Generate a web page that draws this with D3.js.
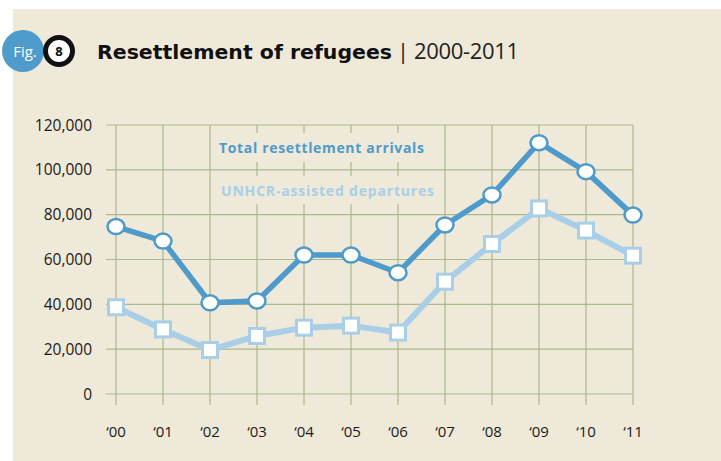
<!DOCTYPE html>
<html><head><meta charset="utf-8">
<script src="https://cdn.jsdelivr.net/npm/d3@7"></script>
<style>html,body{margin:0;padding:0;background:#fff;}svg{display:block;}</style>
</head><body>
<svg id="c" width="721" height="461"></svg>
<script>
const years = ["‘00","‘01","‘02","‘03","‘04","‘05","‘06","‘07","‘08","‘09","‘10","‘11"];
const totalArrivals = [74700, 68200, 40700, 41500, 62000, 62000, 54100, 75400, 88800, 112100, 99200, 79800];
const unhcrDepartures = [38700, 28800, 19600, 25900, 29600, 30500, 27400, 50100, 66900, 82800, 72900, 61700];
const yTicks = [0, 20000, 40000, 60000, 80000, 100000, 120000];
const seriesNames = ["Total resettlement arrivals", "UNHCR-assisted departures"];

const svg = d3.select("#c");
const bg = "#efe9d9", grid = "#a9b98a", dark = "#4e9acb", light = "#a8cfe7";
const font = "'Open Sans', 'Noto Sans', sans-serif";

svg.append("rect").attr("x",13).attr("y",9).attr("width",708).attr("height",452).attr("fill",bg);

const x = d3.scalePoint().domain(years).range([116, 633]);
const y = d3.scaleLinear().domain([0,120000]).range([394,125]);

const g = svg.append("g");
g.selectAll("line.h").data(yTicks).join("line")
  .attr("x1",106).attr("x2",633).attr("y1",d=>y(d)).attr("y2",d=>y(d))
  .attr("stroke",grid).attr("stroke-width",1.2);
g.selectAll("line.v").data(years).join("line")
  .attr("x1",d=>x(d)).attr("x2",d=>x(d)).attr("y1",125).attr("y2",405)
  .attr("stroke",grid).attr("stroke-width",1.2);

svg.selectAll("text.yt").data(yTicks).join("text")
  .attr("x",92).attr("y",d=>y(d)+5.5).attr("text-anchor","end")
  .attr("font-family",font).attr("font-size",15.5).attr("fill","#1a1a1a")
  .text(d=>d3.format(",")(d));
svg.selectAll("text.xt").data(years).join("text")
  .attr("x",d=>x(d)).attr("y",437).attr("text-anchor","middle")
  .attr("font-family",font).attr("font-size",15).attr("fill","#1a1a1a")
  .text(d=>d);

svg.append("rect").attr("x",214).attr("y",133).attr("width",228).attr("height",29).attr("fill",bg);
svg.append("rect").attr("x",214).attr("y",176).attr("width",228).attr("height",28).attr("fill",bg);
svg.append("text").attr("x",219).attr("y",153).attr("font-family",font).attr("font-weight",700)
  .attr("font-size",14).attr("fill",dark).attr("textLength",205).attr("lengthAdjust","spacing").text(seriesNames[0]);
svg.append("text").attr("x",221).attr("y",196).attr("font-family",font).attr("font-weight",700)
  .attr("font-size",14).attr("fill",light).attr("textLength",213).attr("lengthAdjust","spacing").text(seriesNames[1]);

const line = d3.line().x((d,i)=>x(years[i])).y(d=>y(d));
svg.append("path").datum(unhcrDepartures).attr("d",line).attr("fill","none")
  .attr("stroke",light).attr("stroke-width",6).attr("stroke-linejoin","round");
svg.selectAll("rect.sq").data(unhcrDepartures).join("rect")
  .attr("x",(d,i)=>x(years[i])-7.5).attr("y",d=>y(d)-7.5).attr("width",15).attr("height",15)
  .attr("fill","#fff").attr("stroke",light).attr("stroke-width",3);

svg.append("path").datum(totalArrivals).attr("d",line).attr("fill","none")
  .attr("stroke",dark).attr("stroke-width",5.5).attr("stroke-linejoin","round");
svg.selectAll("ellipse.pt").data(totalArrivals).join("ellipse")
  .attr("cx",(d,i)=>x(years[i])).attr("cy",d=>y(d)).attr("rx",8.5).attr("ry",7.5)
  .attr("fill","#fff").attr("stroke",dark).attr("stroke-width",2.5);

svg.append("circle").attr("cx",23).attr("cy",51).attr("r",21).attr("fill","#4f9bcb");
svg.append("text").attr("x",25).attr("y",56.5).attr("text-anchor","middle").attr("font-family",font)
  .attr("font-size",15).attr("fill","#fff").text("Fig.");
svg.append("circle").attr("cx",59).attr("cy",51).attr("r",13.5).attr("fill","#fff").attr("stroke","#111").attr("stroke-width",5);
svg.append("text").attr("x",59).attr("y",56).attr("text-anchor","middle").attr("font-family",font)
  .attr("font-weight",700).attr("font-size",13).attr("fill","#111").text("8");
svg.append("text").attr("x",97).attr("y",59).attr("font-family","'DejaVu Sans', sans-serif").attr("font-size",19)
  .attr("font-weight",700).attr("fill","#111").attr("textLength",295).attr("lengthAdjust","spacingAndGlyphs")
  .text("Resettlement of refugees");
svg.append("text").attr("x",397).attr("y",59).attr("font-family",font).attr("font-size",22)
  .attr("font-weight",400).attr("fill","#222").attr("textLength",122).attr("lengthAdjust","spacing")
  .text("| 2000-2011");
</script>
</body></html>
